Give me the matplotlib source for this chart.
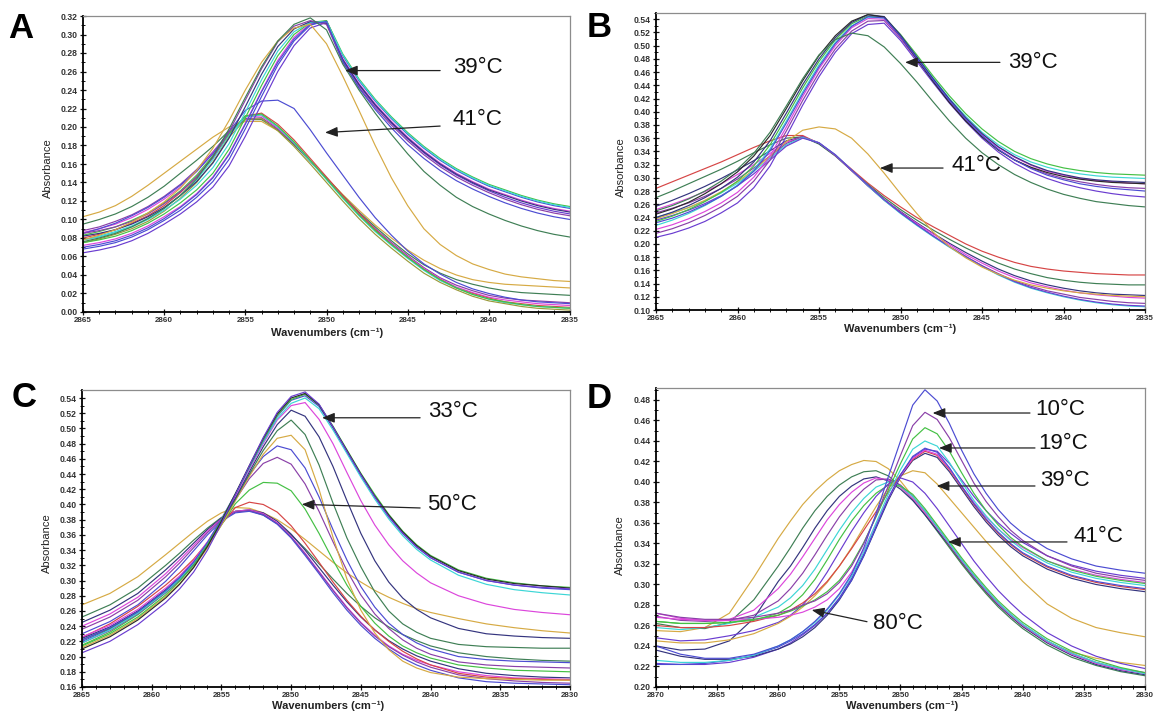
import matplotlib
matplotlib.use("Agg")
import matplotlib.pyplot as plt
from matplotlib.ticker import MultipleLocator, FormatStrFormatter

plt.rcParams['font.family'] = ['Liberation Sans', 'DejaVu Sans']
plt.rcParams['font.weight'] = 'bold'

# ---------------------------------------------------------------- colours
BLUE = '#4c4cd2'
PURPLE = '#8a40a8'
MAGENTA = '#dc46dc'
GREEN = '#44c044'
CYAN = '#3cd6d6'
DKGREEN = '#3f7f55'
GOLD = '#d6aa44'
RED = '#d64545'
NAVY = '#34347e'
VIOLET = '#6a3cd0'
BLACK = '#2a2a2a'
OLIVE = '#9a9a3a'

# ---------------------------------------------------------------- panel A
A_WN = [2865, 2864, 2863, 2862, 2861, 2860, 2859, 2858, 2857, 2856, 2855,
        2854, 2853, 2852, 2851, 2850, 2849, 2848, 2847, 2846, 2845,
        2844, 2843, 2842, 2841, 2840, 2839, 2838, 2837, 2836, 2835]

a_gel1 = [.064, .067, .071, .077, .085, .095, .106, .119, .135, .158, .190, .225, .260, .288, .307, .313,
          .272, .245, .223, .204, .187, .172, .159, .148, .139, .131, .124, .118, .113, .109, .106]
a_gel2 = [.068, .071, .075, .081, .089, .099, .110, .124, .141, .165, .198, .233, .267, .293, .310, .315,
          .277, .250, .228, .209, .192, .177, .164, .153, .144, .136, .130, .124, .119, .115, .112]
a_gel3 = [.072, .075, .079, .085, .093, .103, .114, .128, .146, .171, .204, .239, .272, .297, .312, .314,
          .274, .247, .225, .206, .189, .174, .161, .150, .141, .133, .127, .121, .116, .112, .109]
a_gel4 = [.075, .078, .082, .088, .096, .106, .118, .132, .150, .176, .210, .245, .277, .300, .313, .315,
          .279, .252, .230, .211, .194, .179, .166, .155, .146, .138, .132, .126, .121, .117, .114]
a_gel5 = [.078, .081, .086, .092, .100, .110, .122, .137, .156, .182, .216, .251, .282, .303, .313, .314,
          .278, .251, .229, .210, .193, .178, .165, .154, .145, .137, .131, .125, .120, .116, .113]
a_gel6 = [.082, .085, .089, .095, .103, .113, .126, .141, .161, .188, .222, .257, .287, .306, .314, .312,
          .273, .246, .224, .205, .188, .173, .160, .149, .140, .132, .126, .120, .115, .111, .108]
a_gel7 = [.085, .088, .092, .098, .106, .117, .130, .146, .167, .195, .229, .263, .292, .309, .315, .311,
          .270, .243, .221, .202, .185, .170, .157, .146, .137, .129, .122, .116, .111, .107, .104]
a_gel8 = [.070, .073, .077, .083, .091, .101, .113, .127, .145, .170, .203, .238, .270, .295, .311, .314,
          .271, .242, .219, .199, .181, .166, .153, .142, .133, .125, .118, .112, .107, .103, .100]
a_early_gold = [.078, .083, .089, .097, .107, .119, .134, .153, .177, .207, .240, .270, .293, .307, .311,
                .290, .255, .218, .180, .145, .115, .090, .073, .061, .052, .046, .041, .038, .036, .034, .033]
a_early_green = [.076, .080, .085, .092, .101, .112, .126, .144, .168, .198, .232, .265, .293, .311,
                 .318, .305, .268, .240, .215, .192, .171, .152, .137, .124, .114, .106, .099, .093, .088, .084, .081]
a_mid_blue = [.085, .090, .096, .104, .113, .124, .137, .152, .171, .195, .218, .228, .229, .220, .197, .172,
              .148, .124, .102, .083, .066, .052, .041, .032, .025, .020, .016, .013, .011, .010, .009]
a_liq1 = [.103, .108, .115, .125, .137, .150, .163, .176, .189, .200, .206, .206, .196, .181, .163, .145,
          .127, .110, .094, .080, .067, .056, .047, .040, .035, .032, .030, .029, .028, .027, .026]
a_liq2 = [.095, .100, .106, .114, .124, .136, .150, .164, .179, .196, .208, .208, .197, .181, .163, .145,
          .126, .108, .092, .077, .063, .051, .042, .035, .030, .026, .023, .021, .020, .019, .018]
a_liq3 = [.088, .092, .098, .105, .114, .125, .138, .154, .173, .194, .209, .210, .198, .182, .163, .144,
          .125, .107, .090, .075, .061, .048, .037, .029, .023, .018, .015, .013, .012, .011, .010]
a_liq4 = [.086, .090, .095, .102, .111, .122, .135, .152, .172, .194, .211, .212, .199, .183, .164, .144,
          .125, .106, .089, .074, .060, .047, .036, .027, .021, .016, .013, .011, .009, .008, .007]
a_liq5 = [.080, .084, .089, .096, .104, .115, .129, .146, .167, .192, .212, .215, .203, .186, .166, .146,
          .126, .107, .089, .073, .059, .046, .035, .026, .020, .015, .011, .009, .007, .006, .005]
a_liq6 = [.078, .082, .087, .093, .101, .112, .126, .143, .165, .191, .211, .213, .200, .183, .163, .143,
          .123, .104, .087, .072, .058, .045, .034, .026, .019, .014, .010, .008, .006, .005, .004]
a_liq7 = [.083, .087, .092, .099, .107, .118, .131, .148, .169, .193, .212, .214, .201, .184, .164, .144,
          .124, .105, .088, .073, .059, .046, .035, .026, .019, .014, .011, .008, .006, .005, .004]
a_liq8 = [.075, .079, .084, .090, .098, .109, .123, .140, .162, .189, .208, .209, .196, .179, .160, .140,
          .120, .101, .084, .069, .055, .042, .032, .024, .017, .012, .009, .006, .004, .003, .002]

# ---------------------------------------------------------------- panel B
B_WN = [2865, 2864, 2863, 2862, 2861, 2860, 2859, 2858, 2857, 2856, 2855,
        2854, 2853, 2852, 2851, 2850, 2849, 2848, 2847, 2846, 2845,
        2844, 2843, 2842, 2841, 2840, 2839, 2838, 2837, 2836, 2835]

b_gel1 = [.210, .216, .224, .234, .247, .262, .285, .318, .363, .410, .453, .490, .518, .532,
          .534, .508, .476, .444, .413, .385, .360, .339, .322, .309, .299, .291, .285, .280, .276, .273, .271]
b_gel2 = [.216, .223, .232, .243, .256, .272, .295, .327, .371, .417, .459, .495, .522, .537,
          .538, .511, .479, .447, .416, .388, .363, .343, .327, .315, .306, .299, .294, .290, .287, .285, .284]
b_gel3 = [.222, .229, .238, .249, .262, .278, .301, .333, .377, .423, .465, .500, .527, .541,
          .540, .513, .481, .449, .418, .390, .366, .346, .331, .319, .310, .304, .299, .296, .294, .292, .291]
b_gel4 = [.228, .236, .246, .258, .272, .289, .312, .344, .386, .430, .471, .505, .530, .543,
          .542, .515, .483, .451, .420, .393, .369, .350, .335, .324, .316, .310, .306, .303, .301, .300, .299]
b_gel5 = [.234, .242, .252, .264, .278, .295, .318, .350, .392, .436, .476, .509, .533, .545,
          .543, .517, .486, .454, .424, .397, .374, .355, .340, .329, .321, .315, .311, .308, .306, .305, .304]
b_gel6 = [.240, .248, .258, .270, .284, .301, .324, .356, .398, .441, .480, .512, .535, .547,
          .544, .516, .483, .450, .419, .391, .367, .347, .332, .320, .311, .305, .300, .297, .295, .294, .293]
b_gel7 = [.245, .253, .263, .276, .291, .309, .333, .364, .405, .447, .485, .515, .537, .547,
          .543, .514, .480, .446, .414, .386, .362, .342, .327, .316, .308, .302, .298, .295, .293, .292, .291]
b_gel8 = [.232, .239, .248, .259, .272, .288, .310, .341, .383, .427, .468, .503, .529, .544,
          .542, .514, .481, .448, .417, .389, .364, .343, .327, .314, .304, .297, .291, .287, .284, .282, .280]
b_low_green = [.250, .258, .268, .280, .295, .313, .337, .369, .409, .450, .486, .509,
               .519, .515, .498, .473, .445, .415, .386, .360, .338, .320, .305, .293, .283, .275, .269, .264,
               .261, .258, .256]
b_liq_red = [.284, .294, .304, .314, .324, .335, .346, .356, .364, .364, .352, .334, .313, .292, .273, .256,
             .240, .226, .213, .200, .189, .180, .172, .166, .162, .159, .157, .155, .154, .153, .153]
b_liq_green = [.270, .280, .291, .302, .313, .325, .338, .350, .360, .362, .351, .333, .311, .290, .270, .252,
               .236, .221, .207, .194, .182, .171, .162, .155, .149, .145, .142, .140, .139, .138, .138]
b_liq_navy = [.257, .266, .276, .287, .299, .312, .326, .341, .356, .362, .352, .334, .311, .288, .267, .249,
              .232, .216, .201, .187, .174, .162, .152, .144, .138, .133, .129, .126, .124, .123, .122]
b_liq_magenta = [.252, .260, .269, .279, .291, .305, .320, .337, .354, .362, .353, .334, .311, .288, .267, .248,
                 .231, .215, .199, .184, .171, .159, .149, .141, .135, .130, .126, .123, .121, .119, .118]
b_liq_purple = [.247, .254, .262, .272, .284, .298, .315, .333, .352, .362, .353, .334, .311, .288, .266, .247,
                .229, .212, .196, .181, .167, .155, .144, .136, .129, .124, .119, .116, .113, .111, .110]
b_liq_cyan = [.240, .247, .255, .265, .277, .292, .310, .330, .350, .361, .353, .335, .312, .288, .266, .246,
              .228, .211, .195, .180, .166, .153, .142, .133, .126, .120, .115, .111, .108, .106, .105]
b_liq_violet = [.236, .243, .251, .261, .273, .288, .306, .327, .348, .360, .353, .335, .312, .289, .267, .247,
                .229, .212, .196, .181, .167, .154, .143, .134, .127, .121, .116, .112, .109, .107, .106]
b_mid_gold = [.238, .246, .255, .266, .279, .294, .312, .333, .355, .372, .377, .374, .360, .336, .307, .276,
              .246, .218, .196, .179, .165, .154, .145, .138, .133, .129, .126, .124, .122, .121, .120]

# ---------------------------------------------------------------- panel C
C_WN = [2865, 2863, 2861, 2859, 2858, 2857, 2856, 2855, 2854, 2853, 2852, 2851, 2850, 2849,
        2848, 2847, 2846, 2845, 2844, 2843, 2842, 2841, 2840, 2838, 2836, 2834, 2832, 2830]

c_gel1 = [.205, .220, .242, .271, .289, .311, .340, .375, .413, .451, .488, .521, .542, .548,
          .532, .502, .470, .439, .410, .384, .362, .344, .330, .311, .300, .294, .291, .289]
c_gel2 = [.210, .226, .248, .277, .295, .317, .345, .378, .414, .451, .487, .519, .540, .546,
          .531, .502, .471, .440, .411, .386, .364, .346, .332, .313, .302, .296, .293, .290]
c_gel3 = [.214, .230, .252, .281, .299, .320, .347, .379, .414, .450, .485, .517, .538, .545,
          .531, .503, .472, .441, .413, .387, .365, .347, .333, .314, .303, .297, .293, .291]
c_gel4 = [.218, .235, .257, .285, .302, .323, .349, .380, .413, .448, .482, .513, .533, .540,
          .526, .498, .467, .436, .407, .381, .359, .341, .327, .307, .295, .288, .284, .281]
c_gel5 = [.222, .238, .259, .287, .304, .324, .350, .381, .414, .449, .484, .516, .537, .543,
          .529, .501, .470, .439, .410, .384, .362, .344, .330, .311, .300, .294, .290, .288]
c_t_magenta = [.226, .241, .262, .290, .306, .326, .351, .380, .411, .446, .480, .511, .530, .534,
               .512, .480, .442, .405, .373, .347, .326, .310, .297, .280, .269, .262, .258, .255]
c_t_navy = [.224, .239, .260, .288, .304, .324, .349, .378, .409, .443, .476, .505, .524, .516,
            .489, .450, .405, .362, .326, .298, .277, .262, .251, .237, .230, .227, .225, .224]
c_t_dkgreen = [.222, .237, .258, .286, .302, .322, .347, .376, .407, .440, .471, .497, .511, .492,
               .452, .402, .356, .318, .285, .260, .243, .232, .224, .216, .213, .212, .211, .211]
c_t_gold = [.212, .228, .250, .279, .296, .317, .343, .373, .405, .437, .466, .487, .491, .472,
            .420, .357, .302, .261, .231, .209, .194, .185, .179, .173, .171, .170, .169, .169]
c_t_blue = [.220, .236, .258, .286, .302, .322, .347, .377, .408, .439, .463, .477, .472, .448,
            .410, .367, .327, .292, .265, .244, .229, .218, .210, .200, .196, .194, .193, .192]
c_t_purple = [.218, .234, .256, .284, .300, .320, .345, .375, .406, .434, .454, .462, .453, .427,
              .391, .351, .313, .281, .256, .237, .222, .211, .203, .193, .189, .187, .186, .185]
c_t_green = [.215, .232, .255, .284, .301, .321, .345, .373, .401, .419, .429, .428, .418, .394,
             .362, .327, .294, .266, .244, .227, .214, .205, .198, .189, .185, .182, .181, .180]
c_t_red = [.225, .243, .266, .294, .310, .328, .350, .374, .396, .403, .400, .390, .372, .349,
           .324, .298, .274, .253, .235, .220, .207, .197, .189, .178, .173, .171, .170, .169]
c_liq_gold = [.268, .283, .305, .334, .349, .364, .378, .389, .396, .395, .389, .380, .368, .354,
              .339, .324, .310, .298, .287, .278, .270, .263, .258, .250, .243, .238, .234, .231]
c_liq_dkgreen = [.252, .268, .290, .320, .336, .353, .369, .383, .391, .392, .386, .375, .360, .342,
                 .322, .302, .283, .266, .251, .239, .229, .221, .214, .205, .200, .197, .195, .194]
c_liq_navy = [.245, .261, .283, .314, .331, .349, .367, .382, .391, .393, .389, .378, .361, .340,
              .317, .294, .272, .252, .235, .221, .210, .201, .194, .184, .178, .175, .173, .172]
c_liq_magenta = [.240, .256, .278, .309, .327, .346, .365, .381, .391, .393, .388, .376, .358, .336,
                 .312, .288, .265, .245, .228, .214, .203, .195, .189, .180, .175, .172, .171, .170]
c_liq_purple = [.236, .252, .274, .305, .323, .343, .363, .380, .390, .392, .387, .375, .357, .335,
                .311, .287, .264, .244, .227, .213, .202, .193, .186, .176, .171, .168, .166, .165]
c_liq_blue = [.230, .246, .268, .299, .318, .339, .360, .378, .389, .391, .386, .374, .356, .333,
              .309, .284, .261, .241, .224, .210, .198, .189, .182, .172, .167, .165, .164, .163]

# ---------------------------------------------------------------- panel D
D_WN = [2870, 2868, 2866, 2864, 2862, 2860, 2859, 2858, 2857, 2856, 2855, 2854, 2853, 2852, 2851,
        2850, 2849, 2848, 2847, 2846, 2845, 2844, 2843, 2842, 2841, 2840, 2838, 2836, 2834, 2832, 2830]

d_ord_blue = [.240, .232, .228, .228, .232, .240, .246, .254, .264, .276, .291, .310, .336, .369, .405,
              .440, .475, .490, .479, .457, .431, .408, .389, .373, .360, .350, .335, .325, .318, .314, .311]
d_ord_purple = [.272, .268, .266, .266, .268, .272, .275, .280, .284, .291, .302, .318, .340, .367, .396,
                .426, .455, .468, .461, .443, .421, .399, .381, .366, .353, .343, .328, .318, .311, .307, .304]
d_ord_green = [.264, .262, .262, .263, .266, .270, .274, .279, .285, .293, .304, .320, .341, .366, .392,
               .418, .442, .453, .447, .430, .409, .389, .372, .358, .346, .337, .323, .314, .308, .304, .301]
d_ord_cyan = [.226, .224, .224, .226, .231, .240, .246, .254, .263, .275, .290, .308, .332, .360, .388,
              .412, .432, .440, .435, .419, .400, .382, .367, .354, .343, .334, .321, .312, .306, .302, .299]
d_ord_blue2 = [.222, .222, .223, .226, .231, .239, .245, .252, .261, .272, .286, .304, .328, .356, .384,
               .407, .425, .433, .429, .414, .396, .379, .364, .351, .340, .331, .318, .309, .303, .299, .296]
d_ord_magenta = [.268, .266, .265, .265, .266, .268, .270, .273, .278, .285, .296, .312, .334, .359, .384,
                 .406, .423, .431, .427, .413, .396, .380, .366, .354, .344, .336, .323, .315, .309, .305, .302]
d_ord_red = [.260, .258, .258, .260, .264, .270, .275, .282, .291, .303, .318, .335, .353, .371, .390,
             .407, .422, .430, .426, .412, .395, .378, .363, .350, .339, .330, .317, .308, .302, .298, .295]
d_ord_navy = [.236, .230, .227, .227, .230, .237, .242, .249, .258, .270, .285, .304, .328, .355, .382,
              .405, .421, .428, .424, .410, .393, .376, .361, .348, .337, .328, .315, .306, .300, .296, .293]
d_ord_violet = [.223, .222, .222, .224, .229, .237, .243, .251, .260, .272, .287, .306, .330, .357, .384,
                .407, .424, .432, .430, .418, .402, .386, .372, .360, .350, .341, .328, .319, .313, .309, .306]
d_mid_gold = [.245, .243, .243, .246, .252, .262, .269, .278, .289, .302, .318, .336, .356, .376, .394,
              .406, .411, .409, .398, .384, .370, .356, .342, .329, .316, .303, .281, .267, .258, .253, .249]
d_liq_gold = [.255, .254, .258, .272, .307, .345, .362, .378, .391, .402, .411, .417, .421, .420, .413,
              .401, .386, .370, .353, .337, .321, .306, .292, .280, .269, .259, .244, .234, .228, .224, .221]
d_liq_dkgreen = [.262, .258, .257, .263, .285, .318, .336, .355, .372, .386, .397, .405, .410, .411, .406,
                 .396, .383, .368, .352, .336, .320, .305, .291, .278, .267, .257, .241, .229, .221, .215, .211]
d_liq_navy = [.240, .236, .237, .245, .267, .303, .318, .336, .355, .372, .386, .396, .403, .405, .401,
              .393, .382, .368, .353, .338, .322, .307, .293, .280, .269, .259, .243, .231, .222, .216, .212]
d_liq_magenta = [.272, .267, .265, .266, .275, .296, .310, .327, .345, .363, .378, .390, .399, .404, .402,
                 .395, .384, .370, .355, .339, .323, .308, .294, .281, .270, .260, .244, .232, .223, .217, .213]
d_liq_purple = [.269, .265, .264, .265, .270, .284, .296, .311, .329, .348, .366, .381, .393, .402, .403,
                .397, .386, .372, .356, .340, .324, .309, .295, .282, .271, .261, .245, .233, .224, .218, .214]
d_liq_cyan = [.258, .256, .258, .262, .268, .278, .287, .299, .315, .334, .353, .370, .384, .395, .400,
              .396, .386, .372, .356, .340, .324, .309, .295, .282, .271, .261, .245, .233, .224, .218, .213]
d_liq_green = [.264, .262, .262, .263, .265, .272, .279, .290, .305, .324, .344, .362, .377, .389, .397,
               .396, .388, .374, .358, .342, .326, .311, .297, .284, .273, .263, .247, .235, .226, .219, .214]
d_liq_violet = [.248, .245, .246, .250, .255, .263, .270, .280, .294, .312, .332, .352, .370, .386, .398,
                .404, .400, .389, .374, .357, .340, .323, .308, .294, .282, .271, .253, .240, .230, .223, .218]

# ---------------------------------------------------------------- layout
W, H = 1155, 715
fig = plt.figure(figsize=(W / 100, H / 100), dpi=100)
fig.patch.set_facecolor('white')


def frame(left, top, right, bottom):
    return [left / W, 1 - bottom / H, (right - left) / W, (bottom - top) / H]


def style(ax, xlim, ylim):
    ax.set_xlim(*xlim)
    ax.set_ylim(*ylim)
    ax.xaxis.set_major_locator(MultipleLocator(5))
    ax.xaxis.set_minor_locator(MultipleLocator(1))
    ax.yaxis.set_major_locator(MultipleLocator(0.02))
    ax.yaxis.set_minor_locator(MultipleLocator(0.01))
    ax.yaxis.set_major_formatter(FormatStrFormatter('%.2f'))
    ax.xaxis.set_major_formatter(FormatStrFormatter('%d'))
    ax.tick_params(which='major', direction='inout', length=4, width=0.9,
                   colors='#111111', labelcolor='#333333')
    ax.tick_params(axis='x', which='major', pad=1.5, labelsize=5.8)
    ax.tick_params(axis='y', which='major', pad=2, labelsize=6.2)
    ax.tick_params(which='minor', direction='inout', length=2.5, width=0.7, colors='#111111')
    for s in ('left', 'bottom'):
        ax.spines[s].set_color('#000000')
        ax.spines[s].set_linewidth(1.3)
    for s in ('top', 'right'):
        ax.spines[s].set_color('#8c8c8c')
        ax.spines[s].set_linewidth(0.9)


def draw(ax, wn, series):
    for vals, col in series:
        ax.plot(wn, vals, color=col, lw=0.85, solid_joinstyle='miter')


def label(ax, text, xy, start, pos, size=16):
    ax.annotate('', xy=xy, xytext=start,
                arrowprops=dict(arrowstyle='-|>,head_length=0.75,head_width=0.3',
                                color='#222222', lw=0.9, shrinkA=0, shrinkB=0))
    ax.text(pos[0], pos[1], text, fontsize=size, ha='center', va='center',
            weight='normal', color='#111111')


def axis_titles(xpix, ypix_x, ylab_pix):
    fig.text(xpix / W, 1 - ypix_x / H, 'Wavenumbers (cm\u207b\u00b9)', fontsize=8,
             ha='center', va='center', weight='bold', color='#222222')
    fig.text(ylab_pix[0] / W, 1 - ylab_pix[1] / H, 'Absorbance', fontsize=8,
             ha='center', va='center', rotation=90, weight='normal', color='#222222')


# ---- A
axA = fig.add_axes(frame(83, 16, 570, 312))
style(axA, (2865, 2835), (0.0, 0.32))
draw(axA, A_WN, [
    (a_liq1, GOLD), (a_liq2, DKGREEN), (a_liq3, PURPLE), (a_liq4, MAGENTA),
    (a_liq5, RED), (a_liq6, CYAN), (a_liq7, GREEN), (a_liq8, OLIVE),
    (a_mid_blue, BLUE),
    (a_gel1, VIOLET), (a_gel2, BLUE), (a_gel3, MAGENTA), (a_gel4, GREEN),
    (a_gel5, CYAN), (a_gel6, NAVY), (a_gel7, PURPLE), (a_gel8, BLUE),
    (a_early_gold, GOLD), (a_early_green, DKGREEN),
])
label(axA, '39\u00b0C', (2848.86, 0.261), (2843.0, 0.261), (2840.7, 0.264))
label(axA, '41\u00b0C', (2850.09, 0.194), (2843.0, 0.201), (2840.7, 0.208))
axis_titles(327, 333, (48, 168))
fig.text(8 / W, 1 - 38 / H, 'A', fontsize=25, weight='bold', ha='left', va='baseline')

# ---- B
axB = fig.add_axes(frame(656, 12.6, 1145, 310))
style(axB, (2865, 2835), (0.10, 0.55))
draw(axB, B_WN, [
    (b_liq_red, RED), (b_liq_green, DKGREEN), (b_liq_navy, NAVY), (b_liq_magenta, MAGENTA),
    (b_liq_purple, PURPLE), (b_liq_cyan, CYAN), (b_liq_violet, VIOLET), (b_mid_gold, GOLD),
    (b_gel1, VIOLET), (b_gel2, PURPLE), (b_gel3, MAGENTA), (b_gel4, CYAN),
    (b_gel5, GREEN), (b_gel6, NAVY), (b_gel7, BLACK), (b_gel8, BLUE),
    (b_low_green, DKGREEN),
])
label(axB, '39\u00b0C', (2849.72, 0.4747), (2843.9, 0.4747), (2841.87, 0.475))
label(axB, '41\u00b0C', (2851.26, 0.3148), (2847.39, 0.3148), (2845.37, 0.318))
axis_titles(900, 329, (621, 167))
fig.text(587 / W, 1 - 37 / H, 'B', fontsize=25, weight='bold', ha='left', va='baseline')

# ---- C
axC = fig.add_axes(frame(82, 390.4, 570, 687))
style(axC, (2865, 2830), (0.16, 0.55))
draw(axC, C_WN, [
    (c_liq_gold, GOLD), (c_liq_dkgreen, DKGREEN), (c_liq_navy, NAVY), (c_liq_magenta, MAGENTA),
    (c_liq_purple, PURPLE), (c_liq_blue, BLUE),
    (c_t_red, RED), (c_t_green, GREEN), (c_t_purple, PURPLE), (c_t_blue, BLUE),
    (c_t_gold, GOLD), (c_t_dkgreen, DKGREEN), (c_t_navy, NAVY), (c_t_magenta, MAGENTA),
    (c_gel4, CYAN), (c_gel5, BLUE), (c_gel3, GREEN), (c_gel2, BLACK), (c_gel1, VIOLET),
])
label(axC, '33\u00b0C', (2847.78, 0.514), (2840.75, 0.514), (2838.39, 0.5216))
label(axC, '50\u00b0C', (2849.24, 0.4002), (2840.75, 0.3954), (2838.46, 0.4006))
axis_titles(328, 706, (47, 543))
fig.text(12 / W, 1 - 407 / H, 'C', fontsize=25, weight='bold', ha='left', va='baseline')

# ---- D
axD = fig.add_axes(frame(656, 388, 1145, 687))
style(axD, (2870, 2830), (0.20, 0.4917))
draw(axD, D_WN, [
    (d_liq_gold, GOLD), (d_liq_dkgreen, DKGREEN), (d_liq_navy, NAVY), (d_liq_magenta, MAGENTA),
    (d_liq_purple, PURPLE), (d_liq_cyan, CYAN), (d_liq_green, GREEN), (d_liq_violet, VIOLET),
    (d_mid_gold, GOLD),
    (d_ord_violet, VIOLET), (d_ord_navy, NAVY), (d_ord_red, RED), (d_ord_magenta, MAGENTA),
    (d_ord_blue2, BLUE), (d_ord_cyan, CYAN), (d_ord_green, GREEN), (d_ord_purple, PURPLE),
    (d_ord_blue, BLUE),
])
label(axD, '10\u00b0C', (2847.37, 0.4673), (2839.41, 0.4673), (2836.95, 0.4712))
label(axD, '19\u00b0C', (2846.85, 0.4332), (2839.0, 0.4332), (2836.71, 0.4371))
label(axD, '39\u00b0C', (2847.04, 0.3961), (2839.0, 0.3961), (2836.54, 0.401))
label(axD, '41\u00b0C', (2846.11, 0.3415), (2836.38, 0.3415), (2833.84, 0.3473))
label(axD, '80\u00b0C', (2857.26, 0.2751), (2852.74, 0.2637), (2850.2, 0.2615))
axis_titles(902, 706, (620, 545))
fig.text(587 / W, 1 - 408 / H, 'D', fontsize=25, weight='bold', ha='left', va='baseline')

fig.savefig('out.png', dpi=100, facecolor='white')
